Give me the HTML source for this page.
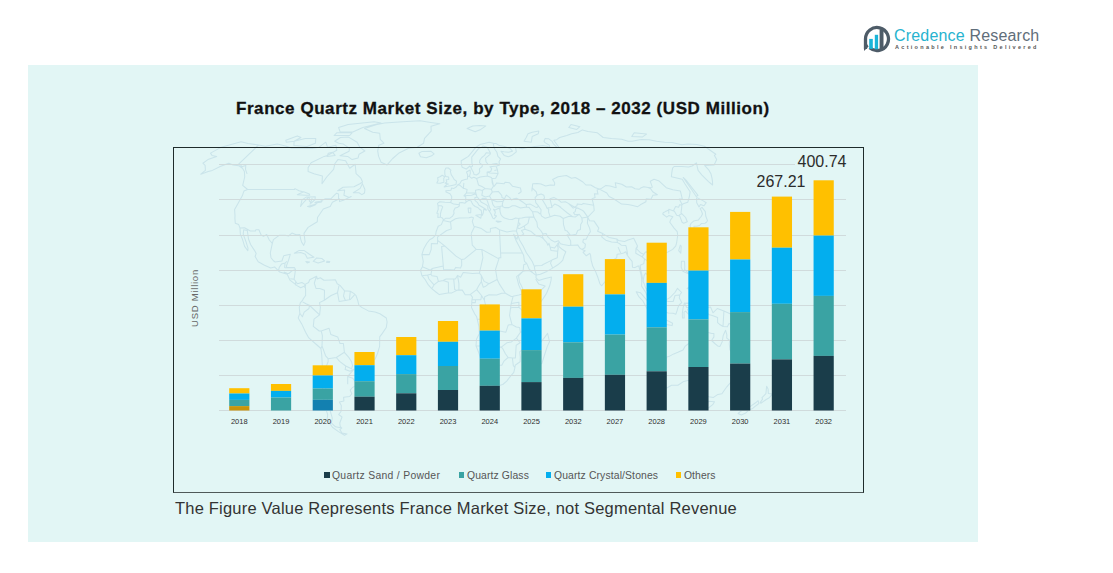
<!DOCTYPE html>
<html><head><meta charset="utf-8">
<style>
html,body{margin:0;padding:0;background:#fff;width:1113px;height:573px;overflow:hidden;}
body{position:relative;font-family:"Liberation Sans",sans-serif;}
.panel{position:absolute;left:28px;top:65px;width:950px;height:477px;background:#E2F6F5;}
.box{position:absolute;left:173px;top:147px;width:689px;height:343.5px;border:1.3px solid #1e2b2b;border-bottom:1.9px solid #4f5959;}
svg.chart{position:absolute;left:0;top:0;}
.xl{font-size:7.5px;fill:#2e2e2e;text-anchor:middle;font-family:"Liberation Sans",sans-serif;}
.title{position:absolute;left:236px;top:98.5px;font-size:17px;letter-spacing:0.56px;font-weight:bold;color:#111;-webkit-text-stroke:0.3px #111;white-space:nowrap;}
.foot{position:absolute;left:175px;top:498.8px;font-size:16.5px;letter-spacing:0.2px;color:#333;white-space:nowrap;}
.ylab{position:absolute;left:193.5px;top:298px;font-size:9.5px;letter-spacing:0.75px;color:#666;white-space:nowrap;transform:translate(-50%,-50%) rotate(-90deg);}
.val{position:absolute;font-size:16px;background:#E2F6F5;padding:0 2px 0 2.5px;margin-left:-2.5px;color:#2c2c2c;white-space:nowrap;}
.leg{position:absolute;top:469.5px;font-size:10.4px;letter-spacing:0.3px;color:#555;white-space:nowrap;}
.leg i{display:inline-block;width:5.3px;height:6px;margin-right:2.7px;vertical-align:0.5px;}
.logo{position:absolute;left:860px;top:22px;}
.brand{position:absolute;left:894px;top:26.5px;font-size:16px;letter-spacing:0.18px;white-space:nowrap;}
.tag{position:absolute;left:895px;top:44.2px;font-size:5.5px;font-weight:bold;color:#555;letter-spacing:2.3px;white-space:nowrap;}
</style></head><body>
<div class="panel"></div>
<svg class="chart" width="1113" height="573" viewBox="0 0 1113 573"><path d="M443.1 220.4L450.1 222.0L455.5 218.7L459.1 218.0L469.1 217.8L472.0 217.1L473.4 217.8L472.3 221.3L473.9 226.3L481.5 228.6L486.7 232.2L490.4 231.9L490.4 228.6L495.6 227.4L499.4 229.8L506.9 231.9L512.9 231.0L516.4 231.0L518.0 235.2L517.0 239.3L513.7 234.3L515.8 240.0L520.1 248.2L523.6 255.3L524.5 261.3L526.7 263.4L529.0 268.8L533.2 273.1L536.1 275.4L536.0 277.8L538.6 280.4L544.3 278.8L551.4 277.1L551.0 280.4L549.7 285.8L546.6 293.2L542.8 299.1L537.3 306.2L533.3 309.7L530.7 312.1L528.8 316.8L529.0 323.2L529.5 328.6L530.9 332.2L530.8 340.5L528.5 344.7L523.6 348.7L519.7 351.8L520.3 357.0L520.1 361.8L515.2 365.3L514.9 367.7L513.8 372.4L510.8 375.9L506.7 381.1L502.8 384.5L499.1 385.4L494.5 385.4L489.9 387.3L487.3 385.6L487.1 381.9L485.6 375.9L484.2 372.6L481.9 368.1L480.9 359.2L478.6 352.3L476.0 345.7L476.5 339.3L479.4 333.4L478.9 326.3L477.2 319.2L476.7 316.8L474.8 314.0L471.5 307.4L471.9 300.3L472.5 297.2L470.4 294.4L465.2 294.8L462.3 290.1L457.5 290.1L451.8 292.9L448.0 292.9L439.3 294.6L435.9 292.0L431.7 288.7L428.3 284.9L425.1 279.5L421.9 275.7L420.5 270.2L422.4 266.7L423.3 261.3L421.9 254.6L423.8 248.7L426.7 243.5L429.6 239.7L432.4 238.3L435.6 235.2L436.1 231.7L438.2 226.3L441.4 224.6L443.1 220.4ZM666.7 357.0L665.6 367.7L664.9 367.7L665.7 374.3L665.4 380.2L662.9 384.5L662.2 386.1L666.8 388.0L671.5 385.2L677.9 385.2L683.8 381.4L689.8 380.0L694.0 379.5L697.9 382.6L699.1 387.3L701.9 384.2L705.1 381.9L702.1 388.2L704.4 389.2L703.6 392.9L704.5 394.8L708.7 396.7L713.5 397.4L717.9 394.4L721.9 393.7L726.8 386.8L728.5 384.9L733.5 379.5L737.6 372.6L739.1 365.5L737.2 361.8L736.4 358.4L734.1 358.0L733.2 353.5L729.9 349.9L729.3 344.0L729.6 340.2L726.7 338.1L726.9 334.8L725.6 330.3L723.2 335.5L722.2 341.7L720.0 346.4L717.6 345.9L714.8 343.5L711.6 340.5L713.9 336.9L713.9 333.4L711.8 333.4L707.2 332.2L703.8 333.8L701.5 335.5L699.5 340.0L697.1 340.5L694.2 338.1L691.1 340.5L688.7 343.5L685.0 346.4L683.0 349.9L677.9 352.3L673.8 353.9L668.7 356.6L666.7 357.0ZM348.6 137.1L357.1 142.2L359.8 147.2L364.9 151.0L359.0 154.3L358.1 157.9L352.1 159.6L347.7 156.4L340.0 155.8L349.1 151.2L349.4 148.2L343.4 144.1L338.7 143.2L334.7 141.3L340.4 137.5L348.6 137.1ZM285.8 140.3L297.3 135.9L300.9 137.5L294.1 141.3L286.3 142.2L285.8 140.3ZM502.8 206.7L504.6 207.6L509.0 207.6L512.3 205.8L515.2 205.8L520.5 208.1L526.5 206.9L526.2 204.6L523.0 202.3L519.2 199.7L516.5 198.3L513.9 198.8L511.4 199.9L509.7 197.6L506.4 195.1L505.3 196.9L504.6 198.8L503.1 201.1L502.3 204.1L502.8 206.7ZM258.5 145.0L238.4 164.3L240.8 164.9L241.6 166.7L245.8 165.4L245.5 169.3L246.6 172.6L247.1 173.9M247.6 189.5L294.5 189.5L294.9 188.6L299.1 190.7L302.8 191.8M312.2 198.1L309.9 204.6M316.4 203.4L321.6 200.6L325.3 198.8L330.8 198.8L334.7 194.8L336.6 193.2L338.6 194.1L338.5 198.8M240.0 228.1L244.6 227.7L250.3 231.0L255.4 231.0L255.8 229.8L258.9 229.8L261.1 235.0L263.5 236.4L266.7 234.5L269.3 240.0L272.7 243.8M278.5 270.7L279.3 267.2L281.5 264.1L285.1 262.9L287.0 261.3M285.1 262.9L284.6 267.4L286.4 267.9M283.8 271.9L286.9 273.3L288.8 273.5L292.2 270.7L295.7 269.5M290.3 278.8L294.1 279.2M295.4 282.3L295.8 285.4M305.8 284.7L304.7 288.0M316.6 276.2L315.6 279.0L314.3 283.2L316.0 288.4L319.8 288.4L324.5 290.3L324.3 300.3L319.5 302.6L320.4 307.4L319.6 314.9M324.3 300.3L331.1 295.5L337.5 292.7L339.0 285.6M337.5 292.7L339.1 301.5L345.4 300.5L350.2 299.6L354.5 294.8M344.6 290.8L343.5 296.0L345.4 300.5M350.3 291.3L349.4 299.6M302.6 301.9L306.0 303.8L309.3 305.2L309.0 308.5L304.2 312.1L302.4 316.8L299.8 313.3M309.3 305.2L312.8 308.5L319.6 314.9L314.0 319.2L313.3 326.3L319.2 331.0L321.2 331.0L322.4 335.7L322.0 345.9L320.9 348.5M321.2 331.0L329.0 328.2L330.9 334.6L337.7 336.9L340.0 343.5L343.4 343.5L344.4 352.3L336.3 357.5L328.1 358.7L325.6 355.8L322.0 345.9M328.1 358.7L328.1 361.8L326.2 366.5L325.7 375.9L325.5 384.2L325.9 390.1L327.3 399.5L329.6 408.9L332.3 418.2L331.3 422.8L335.5 426.8L341.8 428.0M336.3 357.5L339.6 361.3L345.7 366.0L351.6 368.8L352.5 365.5L351.6 361.8L349.0 357.7L344.4 352.3M345.7 366.0L345.2 369.6L350.0 371.2L353.9 369.3L347.7 376.4L347.7 384.2M347.7 376.4L352.8 378.3L357.4 384.9M450.6 222.2L451.3 229.1L446.7 230.5L437.6 236.9L437.6 240.4M437.6 240.4L444.7 245.9L456.0 256.1L461.6 259.6L464.6 258.9L476.2 249.4M471.2 233.6L472.3 245.2L476.2 249.4M474.6 226.5L471.2 233.6M476.2 249.4L481.8 249.4L498.9 258.9L498.9 257.7L500.8 257.7L500.6 253.0M499.5 230.3L500.6 253.0L523.0 253.0M437.6 240.4L437.5 243.8L431.4 243.5L431.2 249.4L429.3 254.6L421.8 254.6M444.7 245.9L441.6 246.4L443.3 266.0L432.1 268.6L430.5 270.2L422.4 266.7M432.1 268.6L430.9 274.3L432.0 275.7L437.1 276.6L438.4 281.4L434.0 284.9L431.7 288.7M430.9 274.3L427.6 275.0L421.9 275.7M427.6 275.0L428.9 279.0L434.0 284.9M438.4 281.4L443.2 280.4L448.4 282.3L448.5 293.2M443.2 280.4L446.1 279.0L449.9 279.0L453.7 279.0L455.4 279.0L457.5 275.4L460.6 277.3L461.3 275.9M443.3 266.0L443.6 269.5L449.9 269.8L454.1 270.0L455.8 267.4L460.5 268.1L461.7 265.3L461.6 259.6M453.7 279.0L454.7 289.6L456.4 290.3M457.5 275.4L458.9 283.7L458.9 290.1M460.6 277.3L463.2 272.6L472.7 273.5L479.4 273.1L481.3 275.4L481.4 281.4L478.6 286.1L476.7 289.6L470.4 294.4M479.4 273.1L482.9 257.7L481.8 249.4M481.3 275.4L484.2 281.4L489.0 283.7L497.2 279.5L496.5 275.4L495.5 269.5L498.9 258.9M481.4 281.4L483.3 287.3L485.2 286.6L489.0 283.7M497.2 279.5L499.6 284.4L505.4 293.2L511.2 296.5L513.1 296.3L518.8 295.1L522.5 294.1L518.7 284.9L516.6 276.6L523.1 271.2L523.7 264.8L526.7 263.4M476.7 289.6L481.5 295.5L484.4 300.3L484.7 296.7L489.1 294.8L496.8 295.1L501.6 293.2L505.4 293.2M481.5 295.5L480.9 299.8L475.4 299.8L472.5 299.6M475.4 299.8L475.4 302.6L471.9 302.6M484.4 300.3L487.6 312.8L484.7 319.0L477.2 319.2M513.1 296.3L511.2 303.6L510.5 308.3L509.6 315.6L512.0 324.6L508.2 325.1L505.9 332.2L499.5 331.0L495.7 331.0L495.4 322.0L487.5 323.9L484.7 319.0M511.2 303.6L518.9 302.2L518.9 307.4L525.6 313.3L528.8 316.1M518.8 295.1L522.5 294.1L526.5 296.5L532.2 295.5L534.0 295.8L532.3 308.5M518.9 307.4L512.2 307.4L510.5 308.3M523.1 271.2L525.9 270.7L529.7 270.7L533.2 273.1M522.5 294.1L522.6 288.4L521.0 284.9L519.6 282.5L518.5 275.9L523.1 271.2M534.0 295.8L538.0 293.4L545.1 286.1L538.7 284.0L535.7 279.0M512.0 324.6L516.3 327.0L519.6 327.5L520.4 332.2L531.0 329.8M495.7 331.0L495.6 335.7L495.4 344.0L498.1 347.1L501.3 347.1L506.8 342.8L511.4 341.9L516.4 338.1L520.4 332.2M516.4 338.1L520.1 342.8L516.2 345.2L515.4 358.0L512.4 358.0L513.3 365.5L514.9 367.7M476.0 345.7L480.2 346.1L488.7 346.1L493.4 347.6L498.1 347.1M493.4 347.6L493.1 357.0L491.2 357.0L491.0 363.6L490.7 372.2L485.1 372.4L484.2 372.6M501.3 347.1L502.8 348.7L505.4 353.7L508.1 357.5L512.4 358.0M491.0 363.6L494.6 366.5L498.4 365.3L501.8 365.3L504.2 360.8L508.1 357.5M438.1 205.8L441.5 205.8L442.7 206.9L441.3 210.5L440.4 214.0L440.5 217.1M450.6 202.5L453.7 204.1L459.3 204.8M457.8 184.7L460.3 185.6L463.4 188.4L464.4 188.6L467.1 189.5L466.5 192.8L463.9 195.8L465.7 196.7L465.8 201.1L466.7 201.6M463.9 182.9L463.6 185.4L463.4 188.4M467.6 175.9L468.9 176.4M476.6 178.4L477.5 181.3L478.5 185.0L481.9 186.5L485.1 188.4L491.4 189.3L493.5 186.1L492.2 182.7L491.9 178.6L491.4 177.5L487.3 175.9M466.5 192.8L471.5 193.0L475.7 193.0L475.5 190.2L478.8 189.5L482.3 190.5L485.1 188.4M475.7 193.0L477.0 196.9M463.9 195.8L471.6 195.3L474.9 194.1L477.0 195.3M482.3 190.5L482.4 192.3L481.8 195.3L485.3 196.9L489.5 196.0L492.3 192.1L491.4 189.3M479.9 200.4L482.9 198.3L486.4 198.8L487.4 201.1L488.6 204.6L489.7 208.1L490.7 209.3L489.5 211.4M489.5 196.0L491.6 199.7L497.0 201.8L502.2 201.6L503.1 201.1M491.6 199.7L492.9 204.6L494.9 207.2L499.8 206.5L502.5 205.8M492.3 192.1L498.3 191.4L501.7 195.3L502.0 197.6L504.6 198.8M491.9 178.6L495.7 178.2L498.1 173.5L497.4 169.8L496.1 166.2M491.9 178.6L493.5 186.1L494.3 186.1L496.8 182.9L503.9 183.8L505.3 182.2L509.4 182.7L512.6 186.3L520.5 188.1L521.2 191.8L518.5 193.7L518.5 194.1M498.1 173.5L490.1 173.1L487.1 172.0M494.4 170.4L496.7 170.0M499.5 164.9L499.0 161.7L500.6 159.0L497.9 156.4L496.9 152.3L494.8 149.2L493.7 146.2L493.4 143.2M487.3 147.2L482.9 146.0L481.7 147.2L478.9 148.2L474.7 153.3L471.7 157.1L471.9 162.8L472.6 166.0L471.0 167.1M487.3 147.2L490.5 153.3M526.2 204.6L530.3 204.1L535.2 206.9L537.1 207.4L538.6 206.2M500.1 206.5L499.9 209.3M518.4 222.2L519.2 218.2L521.9 218.0L525.3 217.3L529.4 217.1L533.9 217.1L532.5 211.6L530.4 209.3L529.2 207.6L526.6 206.9M529.4 217.1L528.0 223.4L524.3 226.0L519.4 228.6L518.5 228.4L517.4 227.0L520.1 224.1L518.4 222.2M524.3 226.0L525.0 229.3L521.5 230.5L523.7 234.1L521.0 235.7L518.2 235.2M525.0 229.3L530.7 231.2L536.2 236.0L539.5 236.2L541.9 237.6L543.5 238.8M533.9 217.1L536.9 222.2L537.5 227.0L540.7 230.5L543.0 234.1M557.1 244.7L558.2 248.2L557.7 251.3L551.1 250.6L550.1 247.1M557.7 251.3L557.3 257.7L551.8 260.1L550.5 263.1L552.7 268.1M551.8 260.1L542.7 264.8L541.8 265.5L535.7 265.7L534.8 266.2M532.5 211.6L537.9 212.1L540.0 214.0M550.2 216.8L554.5 215.2L560.1 216.3L563.2 218.5L563.5 224.6L565.2 230.5L566.7 230.7L570.4 235.2L567.0 234.8L570.6 240.7L570.8 245.2M563.2 218.5L569.0 216.3L575.1 217.1L579.2 214.2L581.9 218.0L587.8 217.1M546.9 208.1L551.1 207.4L552.0 207.4L550.0 198.8L553.9 197.4L558.9 200.2L561.2 202.3L565.4 201.8L568.4 203.4L573.2 208.1L576.9 205.8L577.3 203.9L581.8 204.6L583.2 203.4L593.7 205.3M551.1 207.4L554.7 204.1L558.6 205.8L563.0 209.3L567.4 213.0L572.6 216.6M558.6 205.8L561.1 207.4M568.4 203.4L574.7 207.2L577.6 208.1M577.6 208.1L582.7 210.5L583.9 211.6L587.8 217.1M577.6 208.1L575.7 208.8L575.2 211.6L573.5 212.6L574.9 214.7L579.2 214.2M537.1 195.3L536.3 191.8L532.1 187.9L531.9 190.9L532.7 183.8L537.1 183.6L541.0 184.1L545.7 185.9L550.3 185.0L554.5 185.2L554.7 182.7L552.6 179.5L558.1 176.8L562.9 175.9L566.4 175.5L571.5 178.2L575.3 177.5L578.5 179.3L582.9 182.0L585.9 185.0L590.8 185.0L595.4 187.7L599.3 189.1M593.7 205.3L592.1 198.8L595.1 197.6L594.4 193.7L598.0 194.1L597.1 190.0L599.3 189.1M599.3 189.1L601.5 188.4L605.9 185.4L610.1 186.1L616.2 187.7L615.2 182.7L621.8 184.3L626.4 187.0L631.5 186.8L635.1 188.8L639.1 189.3L640.6 188.1L643.8 186.8L648.1 187.5M599.3 189.1L606.8 193.0L609.1 196.5L613.6 198.8L621.6 204.1L627.9 204.4L631.8 205.3L637.7 206.7L640.3 204.8L645.9 201.8L646.2 198.8L650.9 199.2L652.9 195.3L657.4 194.8L652.7 191.8L650.4 188.4L648.1 187.5M648.1 187.5L652.3 187.2L650.3 181.3L654.0 179.3L659.2 181.1L666.2 187.7L672.8 189.8L680.4 191.1L682.3 198.8L679.3 199.0L682.1 204.6L681.8 205.1M673.6 210.5L675.6 206.5L678.6 207.2L679.6 204.8L681.8 205.1M679.0 215.6L679.9 214.5L682.1 213.8M593.7 205.3L594.2 210.5L587.8 217.1L589.5 220.8L594.1 221.1L598.8 228.1L597.6 231.2L602.7 233.6L609.0 237.4L616.8 239.0L618.4 240.4L624.5 241.4L628.0 240.0L633.7 238.3L637.5 245.9L636.9 248.2L636.2 248.5L640.4 252.7L643.8 254.4L645.4 252.0L650.4 250.6L653.7 251.1L656.5 253.9M587.8 217.1L587.4 223.4L589.6 228.1L590.4 231.7L588.7 234.3L586.1 239.3L583.4 239.3L582.8 242.1L585.4 244.2L584.9 247.8L581.9 249.4M581.9 218.0L582.3 221.8L580.7 224.6L580.4 229.6L577.7 230.5L576.2 234.3L569.5 235.5L567.0 234.8M602.7 233.6L601.7 236.9L605.7 240.2L611.6 241.9L617.5 242.6L616.8 239.0M617.5 242.6L619.3 243.5L621.3 245.2L625.9 245.6L626.7 249.0L627.7 254.6M618.1 247.1L620.7 253.0M637.5 245.9L636.0 248.5L635.8 253.2L642.1 256.8L644.5 258.9L643.8 263.6L640.2 265.3L640.7 269.5L643.0 280.2M642.1 256.8L643.8 254.4M644.5 258.9L648.3 261.7L652.1 264.8L654.1 268.3L654.2 271.4L657.9 270.7L656.5 276.2L654.0 279.2L653.8 281.4M648.3 261.7L651.2 262.4L653.2 259.4L651.9 256.5L648.9 253.0L645.4 252.0M648.9 276.2L649.4 271.4L654.2 271.4M645.8 289.6L648.2 291.5L648.9 290.3M679.2 295.1L675.0 295.5L673.2 301.5L668.4 301.5L663.8 300.3M723.9 311.1L723.0 326.5M662.7 301.5L663.8 300.3L667.4 299.1L670.2 297.4L674.9 292.5L677.5 288.4L681.6 292.5L679.8 294.8L679.3 297.9L681.7 302.6L679.1 305.0L678.0 307.4L677.0 310.9L675.9 314.2L673.1 313.3L668.3 313.0L665.1 311.9L664.6 308.5L662.8 305.0L662.7 301.5ZM535.1 197.6L537.1 195.3L541.1 194.1L543.9 195.3L544.6 198.1L542.5 199.9L546.0 205.8L546.9 208.1L548.7 209.3L548.6 212.1L550.2 216.8L545.2 218.2L541.6 216.1L540.7 214.0L541.1 209.7L538.6 206.2L535.8 202.7L535.1 197.6ZM496.1 221.1L501.2 221.5L498.0 222.2L496.1 221.1ZM294.3 253.2L299.2 250.4L303.9 250.4L308.7 253.7L314.0 257.2L307.3 258.2L305.3 254.2L300.8 252.5L294.3 253.2ZM334.1 135.5L349.7 135.5L352.0 132.8L336.7 132.8L334.1 135.5ZM340.2 132.0L352.8 132.0L362.8 127.6L381.0 123.1L374.2 121.7L348.1 124.5L338.6 127.6L340.2 132.0ZM443.6 219.9L442.4 218.0L440.5 217.1L437.8 217.5L438.1 213.5L436.8 213.3L438.2 209.3L438.1 205.8L437.5 203.4L439.8 201.8L445.0 202.3L450.6 202.5L451.6 199.5L451.7 196.5L450.0 193.7L446.1 192.1L445.8 190.7L451.0 190.2L451.5 188.1L454.0 188.4L456.4 186.8L457.8 184.7L459.8 183.8L461.5 180.7L464.9 179.5L467.5 179.1L467.6 174.8L466.5 172.0L470.1 170.0L470.3 173.3L469.4 176.4L471.5 178.2L473.8 177.3L476.6 178.4L480.2 177.0L483.9 176.4L487.3 175.9L487.1 172.0L490.7 171.5L491.7 168.7L490.0 166.7L496.8 166.0L499.5 164.9L496.3 163.6L491.9 164.3L488.1 164.5L486.0 161.7L485.6 158.1L490.1 154.3L490.5 153.3L486.2 152.7L484.5 155.4L481.8 157.5L479.9 160.0L479.5 162.8L482.3 164.9L482.2 166.5L479.4 168.9L479.7 171.5L478.8 173.5L476.4 175.0L474.1 174.6L473.5 172.6L472.2 170.2L470.7 167.1L469.9 166.0L466.2 169.1L462.2 167.3L461.3 163.8L461.2 160.7L464.9 158.5L468.4 156.4L471.7 152.3L474.3 149.2L476.1 147.2L479.9 144.6L485.2 143.2L489.1 142.2L493.4 143.2L496.3 143.6L499.5 145.6L503.9 146.2L510.2 148.6L512.5 151.2L508.5 152.3L504.0 151.7L501.0 151.2L504.2 155.4L508.3 156.8L511.6 155.4L512.8 154.7L516.3 151.9L515.6 147.8L518.4 147.8L522.3 148.8L528.0 147.2L530.8 147.2L534.7 146.6L537.3 146.2L542.6 145.6L547.1 146.2L549.9 147.6L549.3 145.2L545.1 142.6L544.0 141.3L545.2 138.4L548.8 138.8L552.1 141.3L553.2 143.6L556.7 147.2L559.1 147.6L553.8 140.3L556.7 139.7L559.7 137.5L566.8 135.5L571.6 133.7L577.9 132.5L582.4 129.9L588.0 131.4L597.4 132.8L603.2 137.5L611.5 138.4L621.7 139.2L628.1 141.3L632.2 141.3L639.7 139.7L641.9 139.4L649.1 139.7L656.5 141.3L664.6 142.2L672.0 142.6L681.9 144.8L688.0 144.1L696.8 144.6L704.5 146.2L715.8 154.3L714.4 155.4L716.7 159.6L714.1 164.9L704.6 165.4L709.1 170.4L710.9 173.7L712.0 178.2L712.5 181.6L712.6 185.0L708.5 181.6L701.7 174.8L698.1 170.4L696.4 162.8L692.2 166.0L688.6 167.1L681.8 166.5L674.1 166.5L672.6 168.2L671.8 172.6L671.4 176.8L682.2 179.3L684.9 183.8L690.1 191.8L689.4 196.5L687.7 202.3L683.3 203.7L681.8 205.1L681.6 208.6L681.0 212.8L685.6 217.5L687.3 221.8L683.7 223.2L682.1 222.2L679.7 215.9L676.7 215.2L674.4 211.2L668.8 209.3L668.8 213.3L668.8 210.0L665.4 211.6L663.2 212.8L662.8 214.0L666.7 217.1L668.8 215.6L672.9 216.8L670.6 219.9L669.8 222.2L674.1 228.1L677.2 231.7L677.7 235.2L676.7 242.3L675.8 245.9L672.7 249.4L667.5 252.3L664.0 253.4L661.4 254.9L660.0 254.2L656.5 253.9L654.2 257.0L653.5 258.9L652.9 261.3L655.2 264.3L659.6 268.3L661.5 274.3L661.8 277.8L657.9 280.4L654.3 284.7L653.8 281.4L651.2 280.2L648.9 276.2L645.6 273.1L644.1 275.4L643.1 281.4L644.6 284.9L645.9 288.4L647.9 289.2L651.3 292.7L652.1 298.6L653.5 301.7L652.1 301.9L647.8 298.4L645.8 292.5L641.6 286.1L641.8 281.4L641.2 275.4L638.8 266.0L638.0 266.0L634.8 267.6L632.5 267.2L632.1 261.3L630.0 258.9L627.3 255.3L625.8 251.8L623.6 253.0L620.8 253.7L617.1 254.2L616.7 257.7L613.7 259.6L609.6 265.7L606.1 268.3L606.3 274.3L606.0 280.6L603.1 284.0L601.8 285.8L600.0 284.0L598.0 277.8L595.5 271.4L592.7 266.0L591.1 260.1L590.6 255.3L589.8 253.4L586.3 255.8L583.1 252.3L585.2 250.8L581.9 249.4L579.9 248.2L577.7 244.9L573.0 245.2L568.6 245.4L563.3 244.5L560.4 243.8L558.5 240.7L555.0 242.1L551.0 240.0L547.9 236.9L546.1 233.6L543.0 234.1L542.3 236.4L544.1 239.7L546.6 242.3L547.9 245.2L549.0 243.3L550.1 247.1L554.6 248.0L557.1 244.7L558.4 242.8L559.0 246.6L561.8 249.0L565.8 251.8L563.8 256.5L562.8 260.1L560.7 262.4L557.8 264.8L552.7 268.1L546.8 271.4L540.3 274.3L536.5 275.0L535.0 270.7L534.2 266.0L532.1 261.3L529.0 256.5L526.5 253.0L523.1 245.9L519.5 240.0L518.0 235.2L516.4 231.0L517.4 227.0L518.4 222.2L518.7 218.5L515.6 218.0L512.2 219.6L508.5 219.2L504.5 218.0L502.5 216.6L500.9 214.5L500.1 211.6L499.9 209.3L498.6 208.3L495.2 210.0L493.5 209.3L495.4 212.1L494.5 215.2L496.6 215.9L494.1 218.9L492.6 217.8L491.3 214.5L489.5 211.4L487.9 209.3L487.8 206.2L486.0 204.6L481.4 202.3L479.9 200.4L478.2 198.1L477.0 196.9L474.8 197.8L475.1 200.6L477.3 202.3L479.0 205.3L481.7 206.7L485.4 209.0L486.4 210.2L483.8 209.3L483.2 213.0L482.4 215.2L481.7 214.7L481.3 210.5L479.2 209.0L477.7 207.4L475.2 206.5L472.9 204.6L471.9 202.7L471.3 201.1L468.9 200.2L466.7 201.6L465.0 203.2L462.0 202.5L459.4 202.7L459.3 206.0L457.2 207.6L455.1 208.1L453.7 210.9L454.1 213.3L452.6 216.1L449.9 218.2L445.8 218.2L443.6 219.9ZM444.2 187.0L447.9 186.3L452.0 185.4L456.0 184.5L456.5 181.1L454.2 179.5L452.9 177.3L451.2 174.6L450.4 171.3L450.9 170.2L448.4 168.0L445.9 168.0L444.8 170.4L444.8 173.1L444.9 175.0L445.8 176.4L448.6 177.0L448.8 179.5L446.2 179.8L446.8 182.0L445.2 183.2L448.4 184.1L446.8 184.5L444.2 187.0ZM364.5 128.5L376.0 124.7L384.5 123.1L402.6 121.7L420.0 120.8L430.8 122.4L439.7 123.8L431.0 126.2L431.2 131.1L424.5 138.4L423.6 143.2L417.2 147.2L408.6 148.2L398.6 153.3L392.7 158.5L387.1 164.9L381.1 162.2L378.6 156.4L377.7 151.2L378.8 145.2L383.9 143.2L380.3 139.4L379.7 133.2L372.7 132.3L364.5 128.5ZM658.5 259.6L660.9 257.5L662.9 258.7L660.6 262.0L658.5 259.6ZM313.2 261.3L316.7 257.9L321.8 258.4L324.6 261.0L321.5 262.0L318.1 263.1L313.2 261.3ZM699.1 206.9L700.4 204.6L704.0 205.8L706.2 202.7L703.3 200.9L697.0 197.6L696.6 198.3L696.7 202.7L699.1 206.9ZM691.9 231.0L694.5 230.5L693.9 226.3L696.6 226.3L699.6 225.5L701.5 223.4L705.0 223.2L706.7 222.0L707.5 220.6L705.8 216.3L705.3 211.6L702.0 207.4L700.1 208.6L701.7 211.6L702.5 214.0L701.3 216.3L699.8 218.0L698.5 219.9L693.6 221.1L691.0 223.4L690.0 225.8L691.9 231.0ZM418.9 153.3L422.1 151.4L430.8 151.2L434.1 153.9L431.7 155.8L426.3 157.7L420.5 156.8L418.9 153.3ZM443.9 182.2L443.7 178.6L444.7 176.8L442.2 175.3L440.0 176.8L437.6 177.7L438.1 180.4L436.8 182.9L440.2 183.2L443.9 182.2ZM305.8 261.5L309.6 262.0L307.2 262.9L305.8 261.5ZM655.0 321.1L657.6 319.2L661.3 320.4L666.1 320.1L669.3 321.6L672.6 323.2L672.1 325.6L665.9 324.4L660.2 323.4L657.2 322.5L655.0 321.1ZM297.3 194.8L303.6 191.8L309.4 194.1L309.8 195.3L305.6 195.3L297.3 194.8ZM300.5 206.5L302.0 199.9L306.6 196.9L308.8 196.9L303.7 202.3L300.5 206.5ZM309.2 196.9L315.3 196.7L315.0 199.7L311.3 203.0L309.4 201.1L309.2 196.9ZM307.5 206.5L316.2 203.9L315.0 205.1L310.0 206.9L307.5 206.5ZM314.9 202.7L321.1 202.3L322.0 201.1L316.0 202.0L314.9 202.7ZM681.4 261.3L684.5 261.3L684.8 266.0L684.6 269.5L689.7 274.3L686.7 273.1L682.9 271.2L681.2 267.2L681.4 261.3ZM547.6 333.4L549.5 341.7L547.3 346.4L545.0 353.5L541.8 363.6L537.9 365.3L535.7 360.6L535.0 355.8L537.4 351.1L537.0 345.2L540.9 342.1L545.0 336.9L547.6 333.4ZM687.1 288.4L689.8 286.6L692.5 283.7L695.6 287.3L694.9 290.8L694.0 291.8L691.0 289.6L687.1 288.4ZM210.5 153.1L220.5 147.6L227.5 145.4L241.1 141.7L248.0 143.4L258.5 145.0L265.5 146.2L277.3 144.1L286.4 146.2L291.6 148.2L301.4 148.2L312.4 148.6L319.1 147.2L325.8 142.2L327.5 147.2L335.9 145.2L336.8 150.2L327.7 155.4L324.2 156.4L311.1 162.8L308.1 167.6L308.1 171.5L314.0 173.7L322.4 175.9L322.0 183.8L326.7 177.0L333.6 169.3L334.8 163.8L337.9 159.6L345.6 160.7L349.7 168.2L355.2 164.3L356.1 173.7L360.9 178.2L362.6 182.0L359.9 183.8L354.0 186.8L343.0 187.2L337.7 190.7L344.7 190.0L343.9 195.3L349.2 197.6L351.2 196.5L344.2 199.9L339.5 201.6L339.4 198.8L332.4 202.3L330.2 206.5L323.3 209.0L320.4 213.3L317.5 217.5L317.3 221.8L312.3 224.8L308.1 227.4L304.0 233.4L305.1 241.9L303.7 245.4L301.7 242.3L300.6 238.8L299.9 234.5L296.1 234.8L291.9 233.1L288.5 236.0L285.0 235.2L279.5 235.2L273.4 239.7L272.2 243.8L270.3 253.0L271.0 257.7L273.4 260.8L275.2 262.0L281.9 261.0L283.7 255.8L290.3 254.2L288.6 260.1L286.4 266.0L286.8 267.6L294.4 267.6L295.5 269.5L294.7 275.4L294.1 279.2L297.4 283.7L301.9 282.5L305.0 284.4L304.6 286.1L300.7 287.7L297.0 285.6L290.0 280.2L287.2 274.3L279.7 272.1L274.6 266.9L270.7 267.9L264.5 265.3L258.2 261.7L255.1 256.5L256.2 253.4L254.3 250.1L250.6 244.5L248.5 239.0L247.3 230.5L243.7 229.8L243.2 234.1L245.8 241.2L248.0 248.2L247.8 250.8L244.6 246.4L242.5 239.3L240.4 234.5L240.0 228.1L238.7 224.6L235.3 223.2L234.9 218.5L235.0 215.6L234.6 209.5L238.0 203.4L242.3 195.8L244.0 190.9L247.6 189.5L242.7 185.4L244.7 177.0L244.4 171.5L242.5 168.2L238.9 165.8L233.1 164.9L228.8 163.2L220.2 166.5L212.4 170.4L208.2 171.5L200.8 174.2L205.4 170.4L205.3 168.2L205.1 165.4L202.9 163.2L207.9 159.6L216.7 156.4L212.0 155.4L210.5 153.1ZM353.3 192.8L360.2 188.4L362.4 183.6L364.9 189.5L364.5 193.0L361.9 194.6L359.0 192.8L353.3 192.8ZM704.9 308.1L710.6 307.1L713.0 312.8L717.3 308.5L723.9 311.1L730.6 314.0L733.2 318.0L736.6 319.7L735.7 323.9L740.0 329.4L736.2 329.1L732.7 325.1L729.0 323.4L727.4 326.8L723.0 326.5L719.4 324.2L717.6 322.7L717.6 317.5L712.3 315.4L708.5 314.5L706.7 311.6L704.9 308.1ZM631.7 136.5L634.2 132.8L646.5 134.1L642.6 136.9L631.7 136.5ZM524.0 141.3L526.2 137.5L528.0 133.7L532.1 132.3L538.8 131.1L538.3 133.7L532.2 136.5L531.3 142.2L524.0 141.3ZM766.6 386.3L768.1 388.9L768.3 393.4L772.5 394.1L769.3 397.7L766.2 399.5L760.8 403.3L760.3 402.4L762.6 399.1L762.0 397.7L765.9 393.7L766.6 386.3ZM758.1 400.7L758.9 403.5L754.8 406.6L752.7 408.4L748.8 410.1L745.3 413.3L741.3 414.9L738.1 413.5L739.9 411.9L744.6 408.9L751.1 405.9L755.6 402.8L758.1 400.7ZM326.8 261.3L329.8 261.5L329.3 262.4L326.7 262.4L326.8 261.3ZM305.0 284.4L308.6 282.5L309.7 279.7L312.6 278.3L316.6 276.2L317.3 279.0L320.3 277.8L323.9 280.2L331.6 279.9L335.4 279.7L337.2 283.7L340.0 285.4L344.6 290.8L350.3 291.3L354.1 293.6L356.0 295.5L357.8 300.7L358.8 305.0L361.7 307.4L368.4 310.9L375.1 311.9L379.9 313.7L386.3 318.0L387.1 322.0L386.3 327.5L382.3 333.4L379.7 336.9L379.6 346.4L377.5 353.5L375.0 359.2L370.4 360.1L363.4 366.5L363.7 372.4L360.9 377.1L358.1 383.0L356.6 385.4L352.4 387.5L350.2 390.1L351.8 393.7L349.7 396.5L343.6 397.2L343.9 401.0L339.4 401.9L341.3 405.4L341.1 411.2L338.7 414.5L342.0 417.0L339.8 423.0L340.2 426.4L341.8 428.0L339.8 429.6L342.0 433.0L347.1 433.9L344.5 435.2L338.1 431.4L332.4 427.3L327.1 419.3L327.7 414.7L325.8 408.9L324.9 403.1L322.3 393.7L322.6 387.8L323.0 380.7L321.9 373.6L322.3 365.3L321.7 354.7L320.9 348.5L316.4 344.5L308.8 337.9L305.6 332.2L301.7 323.9L298.2 318.0L299.8 313.3L299.3 307.4L300.3 302.9L302.3 300.7L303.2 298.9L305.6 295.5L305.6 289.4L305.0 284.4ZM696.2 196.5L698.0 195.3L692.5 188.4L685.8 179.8L683.2 177.5L686.8 182.7L691.6 189.5L696.2 196.5ZM468.1 208.1L470.9 208.1L470.7 212.8L468.6 212.8L468.1 208.1ZM568.8 127.6L571.0 124.5L579.9 126.7L576.8 129.4L568.8 127.6ZM475.8 215.2L481.5 214.5L480.8 218.2L475.8 215.2ZM327.1 156.4L335.1 155.4L332.6 152.3L328.3 153.3L327.1 156.4ZM606.3 281.8L608.9 284.9L610.2 288.4L609.3 290.3L607.0 290.8L606.1 286.1L606.3 281.8ZM682.5 318.0L684.2 318.0L684.0 312.1L685.6 311.1L689.9 315.6L687.6 309.3L690.1 307.4L686.7 307.4L684.8 303.8L692.4 301.9L693.7 301.5L691.5 304.1L684.4 303.1L683.2 307.4L682.3 313.3L682.5 318.0ZM636.2 291.8L640.4 292.7L645.9 299.1L652.7 307.4L656.8 312.1L656.2 318.7L653.7 319.0L649.7 314.5L646.4 307.4L642.9 301.0L638.6 296.3L636.2 291.8ZM467.1 128.5L472.8 125.9L479.8 125.4L485.9 125.9L480.8 129.4L475.1 131.8L467.1 128.5ZM678.7 250.6L680.8 253.2L681.2 246.1L680.3 245.2L678.7 250.6ZM708.3 401.2L714.5 401.7L712.7 404.7L708.4 408.0L706.8 407.7L707.2 404.2L708.3 401.2ZM294.1 141.3L305.2 138.4L315.8 138.4L315.4 143.2L307.0 146.6L293.9 145.6L294.1 141.3Z" fill="none" stroke="#cae4ea" stroke-width="1.05" stroke-linejoin="round"/></svg>
<svg class="chart" width="1113" height="573" viewBox="0 0 1113 573">
<line x1="219" x2="846" y1="164.50" y2="164.50" stroke="#d0dbdc" stroke-width="1"/>
<line x1="219" x2="846" y1="199.50" y2="199.50" stroke="#d0dbdc" stroke-width="1"/>
<line x1="219" x2="846" y1="235.50" y2="235.50" stroke="#d0dbdc" stroke-width="1"/>
<line x1="219" x2="846" y1="270.50" y2="270.50" stroke="#d0dbdc" stroke-width="1"/>
<line x1="219" x2="846" y1="305.50" y2="305.50" stroke="#d0dbdc" stroke-width="1"/>
<line x1="219" x2="846" y1="340.50" y2="340.50" stroke="#d0dbdc" stroke-width="1"/>
<line x1="219" x2="846" y1="375.50" y2="375.50" stroke="#d0dbdc" stroke-width="1"/>
<line x1="219" x2="846" y1="410.50" y2="410.50" stroke="#d0dbdc" stroke-width="1"/>
<rect x="229.20" y="388.20" width="20.2" height="5.30" fill="#FFC000"/>
<rect x="229.20" y="393.50" width="20.2" height="6.40" fill="#03AEEE"/>
<rect x="229.20" y="399.90" width="20.2" height="6.20" fill="#3AA3A3"/>
<rect x="229.20" y="406.10" width="20.2" height="4.40" fill="#C8940A"/>
<text x="239.30" y="424.2" class="xl">2018</text>
<rect x="270.94" y="384.00" width="20.2" height="6.90" fill="#FFC000"/>
<rect x="270.94" y="390.90" width="20.2" height="6.60" fill="#03AEEE"/>
<rect x="270.94" y="397.50" width="20.2" height="13.00" fill="#3AA3A3"/>
<text x="281.04" y="424.2" class="xl">2019</text>
<rect x="312.68" y="365.30" width="20.2" height="10.20" fill="#FFC000"/>
<rect x="312.68" y="375.50" width="20.2" height="13.00" fill="#03AEEE"/>
<rect x="312.68" y="388.50" width="20.2" height="11.30" fill="#3AA3A3"/>
<rect x="312.68" y="399.80" width="20.2" height="10.70" fill="#1380B0"/>
<text x="322.78" y="424.2" class="xl">2020</text>
<rect x="354.42" y="352.00" width="20.2" height="13.20" fill="#FFC000"/>
<rect x="354.42" y="365.20" width="20.2" height="16.00" fill="#03AEEE"/>
<rect x="354.42" y="381.20" width="20.2" height="15.50" fill="#3AA3A3"/>
<rect x="354.42" y="396.70" width="20.2" height="13.80" fill="#1A3D4A"/>
<text x="364.52" y="424.2" class="xl">2021</text>
<rect x="396.16" y="337.00" width="20.2" height="18.20" fill="#FFC000"/>
<rect x="396.16" y="355.20" width="20.2" height="18.90" fill="#03AEEE"/>
<rect x="396.16" y="374.10" width="20.2" height="19.20" fill="#3AA3A3"/>
<rect x="396.16" y="393.30" width="20.2" height="17.20" fill="#1A3D4A"/>
<text x="406.26" y="424.2" class="xl">2022</text>
<rect x="437.90" y="321.00" width="20.2" height="20.80" fill="#FFC000"/>
<rect x="437.90" y="341.80" width="20.2" height="24.20" fill="#03AEEE"/>
<rect x="437.90" y="366.00" width="20.2" height="24.00" fill="#3AA3A3"/>
<rect x="437.90" y="390.00" width="20.2" height="20.50" fill="#1A3D4A"/>
<text x="448.00" y="424.2" class="xl">2023</text>
<rect x="479.64" y="304.40" width="20.2" height="26.20" fill="#FFC000"/>
<rect x="479.64" y="330.60" width="20.2" height="28.10" fill="#03AEEE"/>
<rect x="479.64" y="358.70" width="20.2" height="27.10" fill="#3AA3A3"/>
<rect x="479.64" y="385.80" width="20.2" height="24.70" fill="#1A3D4A"/>
<text x="489.74" y="424.2" class="xl">2024</text>
<rect x="521.38" y="289.30" width="20.2" height="29.10" fill="#FFC000"/>
<rect x="521.38" y="318.40" width="20.2" height="31.70" fill="#03AEEE"/>
<rect x="521.38" y="350.10" width="20.2" height="32.00" fill="#3AA3A3"/>
<rect x="521.38" y="382.10" width="20.2" height="28.40" fill="#1A3D4A"/>
<text x="531.48" y="424.2" class="xl">2025</text>
<rect x="563.12" y="274.20" width="20.2" height="32.50" fill="#FFC000"/>
<rect x="563.12" y="306.70" width="20.2" height="35.60" fill="#03AEEE"/>
<rect x="563.12" y="342.30" width="20.2" height="35.60" fill="#3AA3A3"/>
<rect x="563.12" y="377.90" width="20.2" height="32.60" fill="#1A3D4A"/>
<text x="573.22" y="424.2" class="xl">2032</text>
<rect x="604.86" y="259.10" width="20.2" height="35.30" fill="#FFC000"/>
<rect x="604.86" y="294.40" width="20.2" height="40.20" fill="#03AEEE"/>
<rect x="604.86" y="334.60" width="20.2" height="40.20" fill="#3AA3A3"/>
<rect x="604.86" y="374.80" width="20.2" height="35.70" fill="#1A3D4A"/>
<text x="614.96" y="424.2" class="xl">2027</text>
<rect x="646.60" y="242.70" width="20.2" height="40.20" fill="#FFC000"/>
<rect x="646.60" y="282.90" width="20.2" height="44.40" fill="#03AEEE"/>
<rect x="646.60" y="327.30" width="20.2" height="44.00" fill="#3AA3A3"/>
<rect x="646.60" y="371.30" width="20.2" height="39.20" fill="#1A3D4A"/>
<text x="656.70" y="424.2" class="xl">2028</text>
<rect x="688.34" y="227.30" width="20.2" height="43.30" fill="#FFC000"/>
<rect x="688.34" y="270.60" width="20.2" height="48.80" fill="#03AEEE"/>
<rect x="688.34" y="319.40" width="20.2" height="47.60" fill="#3AA3A3"/>
<rect x="688.34" y="367.00" width="20.2" height="43.50" fill="#1A3D4A"/>
<text x="698.44" y="424.2" class="xl">2029</text>
<rect x="730.08" y="211.90" width="20.2" height="47.60" fill="#FFC000"/>
<rect x="730.08" y="259.50" width="20.2" height="52.60" fill="#03AEEE"/>
<rect x="730.08" y="312.10" width="20.2" height="51.50" fill="#3AA3A3"/>
<rect x="730.08" y="363.60" width="20.2" height="46.90" fill="#1A3D4A"/>
<text x="740.18" y="424.2" class="xl">2030</text>
<rect x="771.82" y="196.60" width="20.2" height="51.10" fill="#FFC000"/>
<rect x="771.82" y="247.70" width="20.2" height="56.10" fill="#03AEEE"/>
<rect x="771.82" y="303.80" width="20.2" height="55.60" fill="#3AA3A3"/>
<rect x="771.82" y="359.40" width="20.2" height="51.10" fill="#1A3D4A"/>
<text x="781.92" y="424.2" class="xl">2031</text>
<rect x="813.56" y="180.30" width="20.2" height="55.30" fill="#FFC000"/>
<rect x="813.56" y="235.60" width="20.2" height="60.30" fill="#03AEEE"/>
<rect x="813.56" y="295.90" width="20.2" height="60.00" fill="#3AA3A3"/>
<rect x="813.56" y="355.90" width="20.2" height="54.60" fill="#1A3D4A"/>
<text x="823.66" y="424.2" class="xl">2032</text>
</svg>
<div class="box"></div>
<div class="title">France Quartz Market Size, by Type, 2018 – 2032 (USD Million)</div>
<div class="ylab">USD Million</div>
<div class="val" style="left:797.5px;top:152.5px;">400.74</div>
<div class="val" style="left:756.5px;top:173px;">267.21</div>
<div class="leg" style="left:324px;"><i style="background:#1A3D4A;width:6.2px;margin-right:1.8px;"></i>Quartz Sand / Powder</div>
<div class="leg" style="left:459px;letter-spacing:0.11px;"><i style="background:#3AA3A3"></i>Quartz Glass</div>
<div class="leg" style="left:546px;letter-spacing:0.12px;"><i style="background:#03AEEE"></i>Quartz Crystal/Stones</div>
<div class="leg" style="left:676px;letter-spacing:0.05px;"><i style="background:#FFC000"></i>Others</div>
<div class="foot">The Figure Value Represents France Market Size, not Segmental Revenue</div>
<svg class="logo" width="34" height="34" viewBox="0 0 34 34">
 <path d="M5.5 27 L5.5 17 A11.5 11.5 0 1 1 9.6 25.8" fill="none" stroke="#4e5c68" stroke-width="3.3"/>
 <path d="M4 17 L4 29 L8.6 24.6 L7 22 Z" fill="#4e5c68"/>
 <rect x="9.2" y="16.9" width="3.6" height="10" fill="#1ab4d8"/>
 <rect x="14.8" y="12.8" width="3.3" height="14.5" fill="#1ab4d8"/>
 <rect x="19.6" y="7.5" width="3.9" height="19.5" fill="#4e5c68"/>
</svg>
<div class="brand"><span style="color:#27b3cf">Credence</span> <span style="color:#5f6e7a">Research</span></div>
<div class="tag">Actionable Insights Delivered</div>
</body></html>
